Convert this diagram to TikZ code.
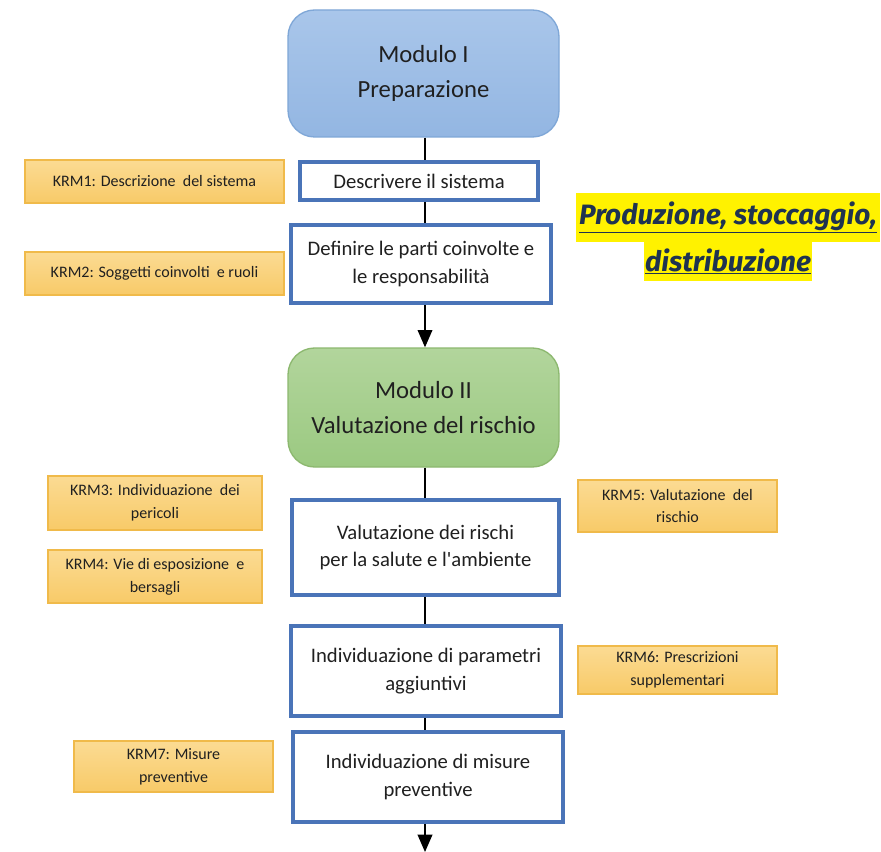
\documentclass[tikz,border=0pt]{standalone}
\usepackage{fontspec}
\setmainfont{Carlito}
\newfontfamily\hlfont{Fira Sans}
\usetikzlibrary{arrows.meta}
\definecolor{modblue}{HTML}{A9C6EA}
\definecolor{modbluedark}{HTML}{93B6E2}
\definecolor{modblueline}{HTML}{7FA7D7}
\definecolor{modgreen}{HTML}{B2D59C}
\definecolor{modgreendark}{HTML}{9BC981}
\definecolor{modgreenline}{HTML}{8CB86F}
\definecolor{stepblue}{HTML}{4A74B8}
\definecolor{krmtop}{HTML}{FBDB93}
\definecolor{krmbot}{HTML}{F8CA68}
\definecolor{krmline}{HTML}{F0BA4A}
\definecolor{txt}{HTML}{202020}
\definecolor{navy}{HTML}{1F3350}
\tikzset{
  module/.style={rounded corners=20, draw, line width=1pt, align=center,
    inner sep=0pt, font=\fontsize{18.5}{26}\selectfont, text=txt},
  bluemod/.style={module, draw=modblueline, top color=modblue, bottom color=modbluedark},
  greenmod/.style={module, draw=modgreenline, top color=modgreen, bottom color=modgreendark},
  stepbox/.style={draw=stepblue, line width=2.8pt, fill=white, align=center,
    inner sep=0pt, font=\fontsize{15.5}{20.5}\selectfont, text=txt},
  krm/.style={draw=krmline, line width=0.8pt, top color=krmtop, bottom color=krmbot,
    align=center, inner sep=0pt, font=\fontsize{12}{17}\selectfont, text=txt},
  flow/.style={line width=1.2pt, black},
  flowarrow/.style={flow, -{Triangle[width=11pt,length=13pt]}},
  hl/.style={fill=yellow, inner sep=0pt, text=navy,
    font=\hlfont\bfseries\itshape\fontsize{21}{25}\selectfont}
}
\begin{document}
\begin{tikzpicture}[x=0.75pt,y=-0.75pt]
\useasboundingbox[fill=white] (0,0) rectangle (881,852);

% main column
\node[bluemod, minimum width=271*0.75pt, minimum height=127*0.75pt] (mod1) at (423.5,73.5)
  {Modulo I\\Preparazione};
\node[stepbox, minimum width=238*0.75pt, minimum height=38*0.75pt] (desc) at (419,181)
  {Descrivere il sistema};
\node[stepbox, minimum width=260*0.75pt, minimum height=78*0.75pt] (defin) at (421,264)
  {Definire le parti coinvolte e\\le responsabilità};
\node[greenmod, minimum width=271*0.75pt, minimum height=119*0.75pt] (mod2) at (423.5,407.5)
  {Modulo II\\Valutazione del rischio};
\node[stepbox, minimum width=267*0.75pt, minimum height=95*0.75pt] (valut) at (425.5,547.5)
  {Valutazione dei rischi\\per la salute e l\textquotesingle ambiente};
\node[stepbox, minimum width=270*0.75pt, minimum height=90*0.75pt] (param) at (426,671)
  {Individuazione di parametri\\aggiuntivi};
\node[stepbox, minimum width=270*0.75pt, minimum height=90*0.75pt] (misure) at (428,777)
  {Individuazione di misure\\preventive};
\coordinate (end) at (425,852);

% key risk management notes
\node[krm, minimum width=259*0.75pt, minimum height=43*0.75pt] (krm1) at (154.5,181.5)
  {KRM1: Descrizione\ \ del sistema};
\node[krm, minimum width=259*0.75pt, minimum height=43*0.75pt] (krm2) at (154.5,273.5)
  {KRM2: Soggetti coinvolti\ \ e ruoli};
\node[krm, minimum width=214*0.75pt, minimum height=54*0.75pt] (krm3) at (155,503)
  {KRM3: Individuazione\ \ dei\\pericoli};
\node[krm, minimum width=214*0.75pt, minimum height=53*0.75pt] (krm4) at (155,576.5)
  {KRM4: Vie di esposizione\ \ e\\bersagli};
\node[krm, minimum width=199*0.75pt, minimum height=52*0.75pt] (krm5) at (677.5,506)
  {KRM5: Valutazione\ \ del\\rischio};
\node[krm, minimum width=199*0.75pt, minimum height=48*0.75pt] (krm6) at (677.5,670)
  {KRM6: Prescrizioni\\supplementari};
\node[krm, minimum width=199*0.75pt, minimum height=51*0.75pt] (krm7) at (173.5,766.5)
  {KRM7: Misure\\preventive};

% highlighted title
\node[hl, minimum width=304*0.75pt, minimum height=49*0.75pt] (title1) at (728,217.5)
  {\underline{Produzione, stoccaggio,}};
\node[hl, minimum width=168*0.75pt, minimum height=39*0.75pt] (title2) at (728,261.5)
  {\underline{distribuzione}};

% connectors
\draw[flow] (mod1.south -| 425,0) -- (desc.north -| 425,0);
\draw[flow] (desc.south -| 425,0) -- (defin.north -| 425,0);
\draw[flowarrow] (defin.south -| 425,0) -- (mod2.north -| 425,0);
\draw[flow] (mod2.south -| 425,0) -- (valut.north -| 425,0);
\draw[flow] (valut.south -| 425,0) -- (param.north -| 425,0);
\draw[flow] (param.south -| 425,0) -- (misure.north -| 425,0);
\draw[flowarrow] (misure.south -| end) -- (end);
\end{tikzpicture}
\end{document}
